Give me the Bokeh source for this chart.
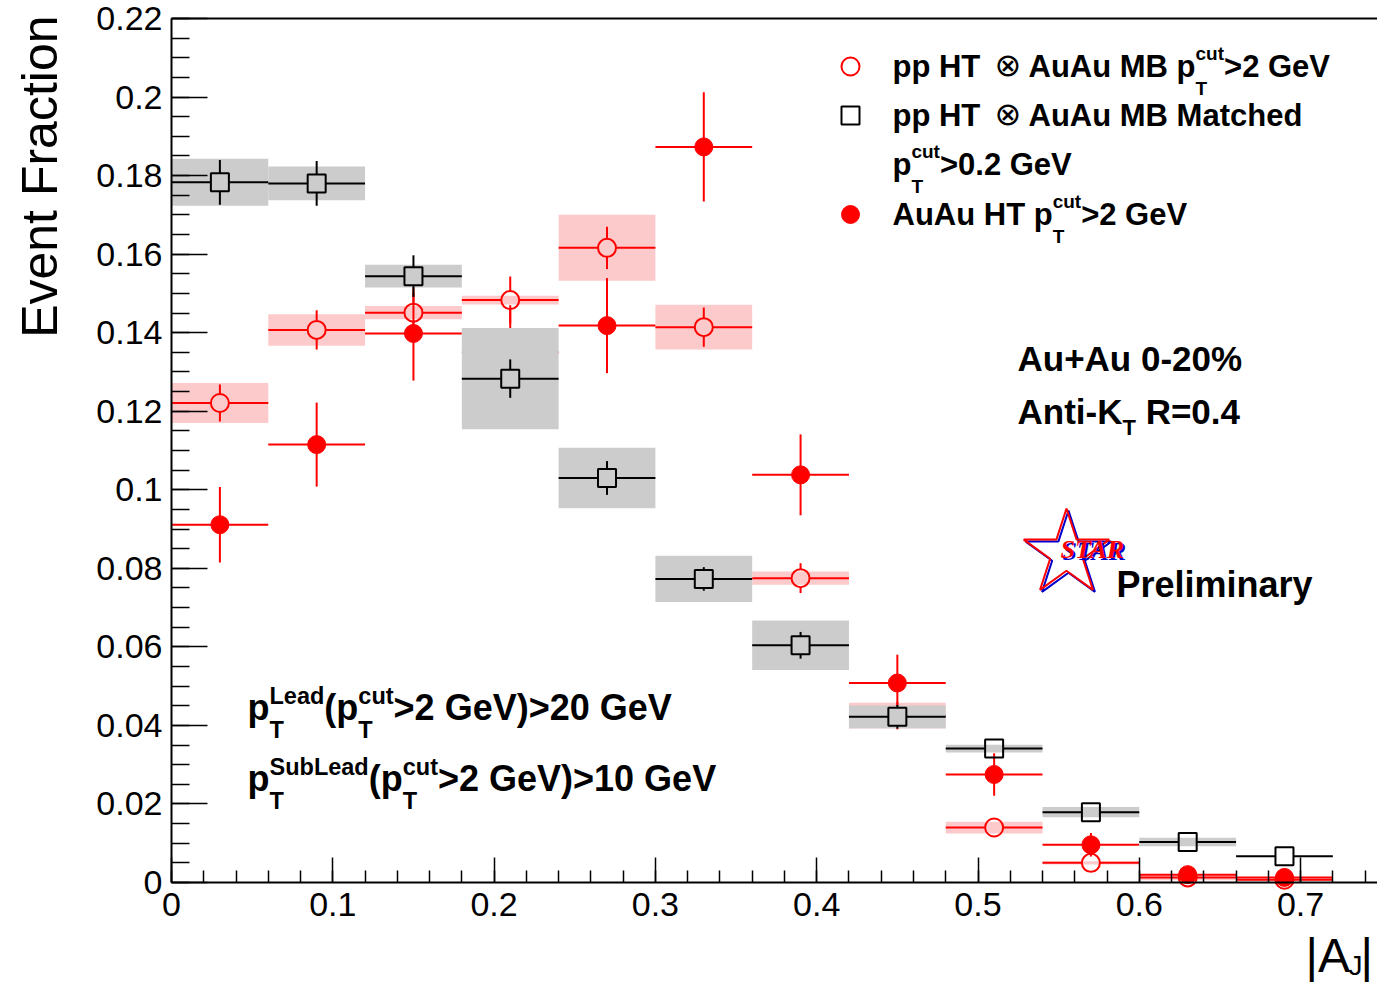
import math
from bokeh.plotting import figure
from bokeh.models import (Label, SingleIntervalTicker, CustomJSTickFormatter, Range1d,
                          LinearAxis, FixedTicker)
from bokeh.embed import file_html
from bokeh.resources import INLINE

# ---------------- data ----------------
aj_lo = [0.00, 0.06, 0.12, 0.18, 0.24, 0.30, 0.36, 0.42, 0.48, 0.54, 0.60, 0.66]
aj_hi = [0.06, 0.12, 0.18, 0.24, 0.30, 0.36, 0.42, 0.48, 0.54, 0.60, 0.66, 0.72]
aj_mid = [0.03, 0.09, 0.15, 0.21, 0.27, 0.33, 0.39, 0.45, 0.51, 0.57, 0.63, 0.69]

# pp HT (x) AuAu MB, pT cut > 2 GeV  (open red circles)
emb_val = [0.1221, 0.1407, 0.1451, 0.1483, 0.1616, 0.1414, 0.0775, 0.0425, 0.0140, 0.0050, 0.0013, 0.0007]
emb_stat = [0.0047, 0.0050, 0.0050, 0.0060, 0.0054, 0.0050, 0.0038, 0.0035, 0.0015, 0.0010, 0.0005, 0.0003]
emb_sys = [0.0051, 0.0040, 0.0017, 0.0011, 0.0084, 0.0057, 0.0017, 0.0033, 0.0015, 0.0004, 0.0007, 0.0003]

# pp HT (x) AuAu MB matched, pT cut > 0.2 GeV  (open black squares)
mat_val = [0.1783, 0.1780, 0.1544, 0.1283, 0.1030, 0.0773, 0.0604, 0.0422, 0.0341, 0.0179, 0.0103, 0.0067]
mat_stat = [0.0057, 0.0057, 0.0053, 0.0049, 0.0043, 0.0030, 0.0034, 0.0030, 0.0020, 0.0012, 0.0010, 0.0008]
mat_sys = [0.0060, 0.0043, 0.0029, 0.0129, 0.0077, 0.0059, 0.0063, 0.0029, 0.0010, 0.0013, 0.0011, 0.0000]

# AuAu HT, pT cut > 2 GeV  (filled red circles)
hi_val = [0.0911, 0.1115, 0.1398, 0.1350, 0.1418, 0.1873, 0.1038, 0.0508, 0.0275, 0.0096, 0.0020, 0.0013]
hi_stat = [0.0096, 0.0107, 0.0120, 0.0120, 0.0121, 0.0139, 0.0103, 0.0072, 0.0054, 0.0030, 0.0010, 0.0008]

# ---------------- layout ----------------
FONT = "Liberation Sans"
W_PX, H_PX = 1377, 982
X0PX, Y0PX = 171.0, 882.0          # pixel position of (0, 0)
PXX = 1613.0                       # pixels per unit of |A_J|
PXY = 864.0 / 0.22                 # pixels per unit of event fraction
Y_TOP = 0.22
X_START, X_END = -X0PX / PXX, (W_PX - X0PX) / PXX
Y_START, Y_END = (Y0PX - H_PX) / PXY, Y0PX / PXY
RED = "#ff0000"
PINK = "#fccaca"
GREY = "#cccccc"
MID = 0.3465   # distance from baseline to the middle of the em box, in font sizes


def dx(px):
    return (px - X0PX) / PXX


def dy(py):
    return (Y0PX - py) / PXY


p = figure(width=W_PX, height=H_PX, x_range=Range1d(X_START, X_END),
           y_range=Range1d(Y_START, Y_END),
           output_backend="svg", toolbar_location=None,
           min_border=0, min_border_left=0, min_border_right=0,
           min_border_top=0, min_border_bottom=0)
p.xgrid.visible = False
p.ygrid.visible = False
p.outline_line_color = None
p.background_fill_color = "white"
p.border_fill_color = "white"

fmt = CustomJSTickFormatter(code="return String(Math.round(tick*1000)/1000);")
p.xaxis.ticker = SingleIntervalTicker(interval=0.1, num_minor_ticks=5)
p.yaxis.ticker = SingleIntervalTicker(interval=0.02, num_minor_ticks=4)
p.xaxis.fixed_location = 0
p.yaxis.fixed_location = 0
p.xaxis.bounds = (0, X_END)
p.yaxis.bounds = (0, Y_TOP)
for ax, maj, mnr, stand in ((p.xaxis, 25, 12, 10), (p.yaxis, 36, 18, 9)):
    ax.formatter = fmt
    ax.major_tick_in = maj
    ax.major_tick_out = 0
    ax.minor_tick_in = mnr
    ax.minor_tick_out = 0
    ax.axis_line_width = 2
    ax.major_tick_line_width = 1.5
    ax.minor_tick_line_width = 1.5
    ax.major_label_text_font = FONT
    ax.major_label_text_font_size = "34px"
    ax.major_label_text_color = "black"
    ax.major_label_standoff = stand

# top frame edge
top_axis = LinearAxis(fixed_location=Y_TOP, ticker=FixedTicker(ticks=[]), bounds=(0, X_END),
                      major_tick_in=0, major_tick_out=0, minor_tick_in=0, minor_tick_out=0,
                      axis_line_width=2)
p.add_layout(top_axis, "above")

gx = 9.0 / PXX
gy = 9.0 / PXY


def bars(xs, ys, errs, lo, hi, hollow):
    x0, y0, x1, y1 = [], [], [], []
    for x, y, e, a, b in zip(xs, ys, errs, lo, hi):
        g_x = gx if hollow else 0.0
        g_y = gy if hollow else 0.0
        x0 += [a, x + g_x]
        x1 += [x - g_x, b]
        y0 += [y, y]
        y1 += [y, y]
        if e > g_y:
            x0 += [x, x]
            x1 += [x, x]
            y0 += [y + g_y, y - g_y]
            y1 += [y + e, y - e]
    return x0, y0, x1, y1


# pink systematic boxes + open red circles
p.quad(left=aj_lo, right=aj_hi,
       bottom=[v - s for v, s in zip(emb_val, emb_sys)],
       top=[v + s for v, s in zip(emb_val, emb_sys)],
       fill_color=PINK, line_color=None)
x0, y0, x1, y1 = bars(aj_mid, emb_val, emb_stat, aj_lo, aj_hi, True)
p.segment(x0=x0, y0=y0, x1=x1, y1=y1, line_color=RED, line_width=2)
p.scatter(aj_mid, emb_val, marker="circle", size=18, fill_color=None, line_color=RED, line_width=2)

# filled red circles
x0, y0, x1, y1 = bars(aj_mid, hi_val, hi_stat, aj_lo, aj_hi, False)
p.segment(x0=x0, y0=y0, x1=x1, y1=y1, line_color=RED, line_width=2)
p.scatter(aj_mid, hi_val, marker="circle", size=18, fill_color=RED, line_color=RED, line_width=1)

# grey systematic boxes + black squares
p.quad(left=aj_lo, right=aj_hi,
       bottom=[v - s for v, s in zip(mat_val, mat_sys)],
       top=[v + s for v, s in zip(mat_val, mat_sys)],
       fill_color=GREY, line_color=None)
x0, y0, x1, y1 = bars(aj_mid, mat_val, mat_stat, aj_lo, aj_hi, True)
p.segment(x0=x0, y0=y0, x1=x1, y1=y1, line_color="black", line_width=2)
p.scatter(aj_mid, mat_val, marker="square", size=18, fill_color=None, line_color="black", line_width=2)

# ---------------- texts ----------------
HB = {' ': .278, '(': .333, ')': .333, '+': .584, '-': .333, '.': .278, '=': .584, '>': .584,
      '%': .889, 'A': .722, 'B': .722, 'G': .778, 'H': .722, 'K': .722, 'L': .611, 'M': .833,
      'P': .667, 'R': .722, 'S': .667, 'T': .611, 'V': .667, 'a': .556, 'b': .611, 'c': .556,
      'd': .611, 'e': .556, 'h': .611, 'i': .278, 'l': .278, 'm': .889, 'n': .611, 'p': .611,
      'r': .389, 't': .333, 'u': .611, 'y': .556}
for d in "0123456789":
    HB[d] = .556


def tw(s, size):
    return sum(HB.get(c, 0.6) for c in s) * size


def txt(px, py, s, size, style="bold", color="black", font=FONT, align="left", angle=0.0):
    """px, py: start (or end) of the text on its baseline, in picture pixels."""
    lead = len(s) - len(s.lstrip(" "))
    px += tw(" " * lead, size)
    s = s.strip(" ")
    if not s:
        return
    if angle == 0.0:
        cx, cy = px, py - MID * size
    else:
        cx, cy = px - MID * size, py
    p.add_layout(Label(x=dx(cx), y=dy(cy), text=s, text_font=font,
                       text_font_size=f"{size}px", text_font_style=style,
                       text_color=color, text_align=align, text_baseline="middle",
                       angle=angle))


def rich(px, py, parts, size, ssize, up, down):
    x = px
    for part in parts:
        if isinstance(part, str):
            txt(x, py, part, size)
            x += tw(part, size)
        else:
            sup, sub = part
            txt(x, py - up, sup, ssize)
            txt(x, py + down, sub, ssize)
            x += max(tw(sup, ssize), tw(sub, ssize))


# legend
LS, LSS = 31, 19
p.scatter([dx(850)], [dy(66)], marker="circle", size=18, fill_color=None, line_color=RED, line_width=2)
p.scatter([dx(850)], [dy(115)], marker="square", size=18, fill_color=None, line_color="black", line_width=2)
p.scatter([dx(850)], [dy(214)], marker="circle", size=18, fill_color=RED, line_color=RED)

txt(892, 77, "pp HT", LS)
txt(994, 76, "\u2297", 32, style="normal", font="DejaVu Sans")
rich(1028, 77, ["AuAu MB p", ("cut", "T"), ">2 GeV"], LS, LSS, 17, 18)
txt(892, 126, "pp HT", LS)
txt(994, 125, "\u2297", 32, style="normal", font="DejaVu Sans")
txt(1028, 126, "AuAu MB Matched", LS)
rich(892, 175, ["p", ("cut", "T"), ">0.2 GeV"], LS, LSS, 17, 18)
rich(892, 225, ["AuAu HT p", ("cut", "T"), ">2 GeV"], LS, LSS, 17, 18)

# centrality / jet info
txt(1017, 370, "Au+Au 0-20%", 35)
rich(1017, 423, ["Anti-K", ("", "T"), " R=0.4"], 35, 22, 0, 12)

# cuts
rich(247, 719, ["p", ("Lead", "T"), "(p", ("cut", "T"), ">2 GeV)>20 GeV"], 36, 23.5, 15, 19)
rich(247, 790, ["p", ("SubLead", "T"), "(p", ("cut", "T"), ">2 GeV)>10 GeV"], 36, 23.5, 15, 19)

# STAR preliminary logo
p.scatter([dx(1068)], [dy(555)], marker="star", size=90, fill_color=None, line_color="#0000cc", line_width=2)
p.scatter([dx(1066)], [dy(553)], marker="star", size=90, fill_color=None, line_color=RED, line_width=2)
txt(1062, 560, "STAR", 26, style="bold italic", color="#0000cc", font="Liberation Serif")
txt(1060, 558, "STAR", 26, style="bold italic", color=RED, font="Liberation Serif")
txt(1116, 596, "Preliminary", 36)

# axis titles
txt(57, 15, "Event Fraction", 50, style="normal", align="right", angle=math.pi / 2)
txt(1305, 972, "|A", 48, style="normal")
txt(1348, 975, "J", 28, style="normal")
txt(1360, 972, "|", 48, style="normal")

open("out.html", "w").write(file_html(p, INLINE))
